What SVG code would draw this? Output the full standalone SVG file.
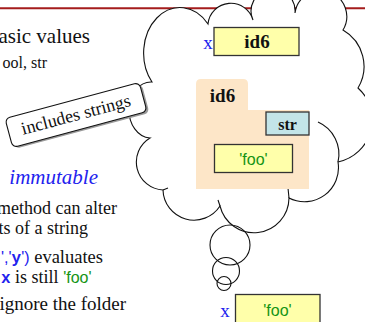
<svg xmlns="http://www.w3.org/2000/svg" width="365" height="322" viewBox="0 0 365 322">
<style>
text{font-family:"Liberation Serif","Times New Roman",serif;fill:#111;}
.sans{font-family:"Liberation Sans",Arial,sans-serif;}
.mono{font-family:"Liberation Mono","Courier New",monospace;font-weight:bold;}
.blue{fill:#2222ee;}
.green{fill:#149414;}
.body{font-size:18px;}
.cloud{fill:#fff;stroke:#111;stroke-width:1.1;}
.thin{fill:none;stroke:#111;stroke-width:1.1;}
.ybox{fill:#ffffaa;stroke:#333;stroke-width:1.3;}
</style>
<rect width="365" height="322" fill="#fff"/>
<line x1="0" y1="8.3" x2="365" y2="8.3" stroke="#a51c1c" stroke-width="2"/>

<g id="left-text">
<text x="90" y="43" text-anchor="end" font-size="21">asic values</text>
<text x="47" y="68" text-anchor="end" font-size="16">ool, str</text>
<text x="98" y="184" text-anchor="end" font-size="21" font-style="italic" class="blue">immutable</text>
<text x="117" y="214" text-anchor="end" class="body">method can alter</text>
<text x="88" y="234" text-anchor="end" class="body">ts of a string</text>
<text x="1" y="263" font-size="18.5"><tspan class="sans blue" font-size="16">','</tspan><tspan class="mono blue" font-size="16">y</tspan><tspan class="sans blue" font-size="16">')</tspan> evaluates</text>
<text x="1" y="283" class="body"><tspan class="mono blue" font-size="16">x</tspan> is still <tspan class="sans green" font-size="16">'foo'</tspan></text>
<text x="126" y="310" text-anchor="end" font-size="19">ignore the folder</text>
</g>

<g id="cloud">
<path class="cloud" d="M150 138 A22 28 0 0 1 152 82 A36 45 0 0 1 208 24 A23 23 0 0 1 253 20 A22 22 0 1 1 295 13 A26 26 0 1 1 343 30 A42 42 0 0 1 358 88 A43 43 0 0 1 338 162 A34 34 0 0 1 289 198 A35 35 0 0 1 220 206 A31 31 0 0 1 163 190 A28 28 0 0 1 150 138 Z"/>
<path class="thin" d="M318 122 A35 35 0 0 1 338 162 M163 190 L168 188 M220 206 L218 200 M289 198 L288 188"/>
<circle class="thin" cx="230" cy="245" r="20"/>
<circle class="thin" cx="226" cy="271" r="13.5"/>
<circle class="thin" cx="224" cy="283.5" r="7"/>
</g>

<g id="callout">
<g transform="translate(76 115) rotate(-15)">
<rect x="-67.5" y="-13" width="139" height="30" rx="5" fill="#9a9a9a"/>
<rect x="-69.5" y="-15" width="139" height="30" rx="5" fill="#fff" stroke="#111" stroke-width="1.1"/>
<text x="0" y="5.5" text-anchor="middle" font-size="18">includes strings</text>
</g>
</g>

<g id="var-x">
<text x="208" y="49" text-anchor="middle" font-size="19" class="blue">x</text>
<rect class="ybox" x="214" y="27.5" width="85" height="28"/>
<text x="257" y="48" text-anchor="middle" font-size="19" font-weight="bold">id6</text>
</g>

<g id="folder-id6">
<path d="M196 110 V84 Q196 79 201 79 H243 Q248 79 248 84 V110 H309 V189 H196 Z" fill="#fde6c8"/>
<text x="222.5" y="102" text-anchor="middle" font-size="19" font-weight="bold">id6</text>
<rect x="266" y="112" width="43" height="23" fill="#c3e5e8" stroke="#333" stroke-width="1.3"/>
<text x="287.5" y="129.5" text-anchor="middle" font-size="16" font-weight="bold">str</text>
<rect class="ybox" x="214.5" y="144.5" width="78" height="28"/>
<text x="253.5" y="165" text-anchor="middle" font-size="16" class="sans green">'foo'</text>
</g>

<g id="var-x-bottom">
<text x="225" y="317" text-anchor="middle" font-size="19" class="blue">x</text>
<rect class="ybox" x="235.5" y="294.5" width="84.5" height="40"/>
<text x="277.5" y="316" text-anchor="middle" font-size="16" class="sans green">'foo'</text>
</g>
</svg>
